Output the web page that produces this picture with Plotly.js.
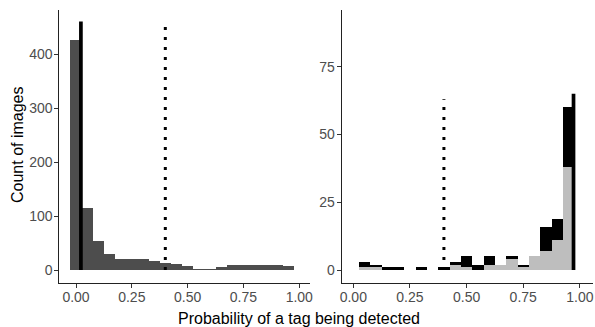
<!DOCTYPE html>
<html>
<head>
<meta charset="utf-8">
<script src="https://cdn.plot.ly/plotly-3.0.1.min.js"></script>
<style>html,body{margin:0;padding:0;background:#fff;}#chart{width:595px;height:327px;}</style>
</head>
<body>
<div id="chart"></div>
<script>
// Bin centres (width 0.05)
const binsLeft = [0.00,0.05,0.10,0.15,0.20,0.25,0.30,0.35,0.40,0.45,0.50,0.55,0.60,0.65,0.70,0.75,0.80,0.85,0.90,0.95];
const countsLeft = [426,115,54,29,20,21,20,17,13,12,8,2,2,6,9,10,9,9,10,7];

const binsRight = [0.05,0.10,0.15,0.20,0.25,0.30,0.35,0.40,0.45,0.50,0.55,0.60,0.65,0.70,0.75,0.80,0.85,0.90,0.95];
const greyRight  = [1,1,0,0,0,0,0,0,2,1,0,2,2,4,1,5,7,11,38];
const blackRight = [2,1,1,1,0,1,0,1,1,4,2,3,0,1,1,0,9,8,22];

// Summary lines
const summaryLeftX = 0.022, summaryLeftTop = 460;
const summaryRightX = 0.972, summaryRightTop = 65;
const threshold = 0.40;
const thresholdTopLeft = 460, thresholdTopRight = 63;

const W = 595, H = 327;
const tickFont = {family: 'Liberation Sans, Arial, sans-serif', size: 14, color: '#4d4d4d'};

const traces = [
  {type:'bar', x: binsLeft, y: countsLeft, width: 0.05, marker:{color:'#4d4d4d', line:{width:0}}, xaxis:'x', yaxis:'y', hoverinfo:'none'},
  {type:'scatter', mode:'lines', x:[summaryLeftX, summaryLeftX], y:[0, summaryLeftTop], line:{color:'#000', width:3.7}, xaxis:'x', yaxis:'y'},
  {type:'scatter', mode:'lines', x:[threshold, threshold], y:[0, thresholdTopLeft], line:{color:'#000', width:3, dash:'3px,7px'}, xaxis:'x', yaxis:'y'},

  {type:'bar', x: binsRight, y: greyRight, width: 0.05, marker:{color:'#bebebe', line:{width:0}}, xaxis:'x2', yaxis:'y2', hoverinfo:'none'},
  {type:'bar', x: binsRight, y: blackRight, width: 0.05, marker:{color:'#000000', line:{width:0}}, xaxis:'x2', yaxis:'y2', hoverinfo:'none'},
  {type:'scatter', mode:'lines', x:[summaryRightX, summaryRightX], y:[0, summaryRightTop], line:{color:'#000', width:3.7}, xaxis:'x2', yaxis:'y2'},
  {type:'scatter', mode:'lines', x:[threshold, threshold], y:[0, thresholdTopRight], line:{color:'#000', width:3, dash:'3px,7px'}, xaxis:'x2', yaxis:'y2'}
];

const axCommon = {
  showgrid:false, zeroline:false, showline:true, linecolor:'#222', linewidth:1,
  ticks:'outside', ticklen:4, tickcolor:'#333', tickwidth:1, tickfont: tickFont, fixedrange:true,
  ticklabelstandoff: -1
};
const xticks = [0, 0.25, 0.5, 0.75, 1.0];
const xtickText = ['0.00','0.25','0.50','0.75','1.00'];

const yBottom = (H - 282.7)/H, yTop = (H - 10)/H;

const layout = {
  width: W, height: H,
  margin:{l:0, r:0, t:0, b:0},
  paper_bgcolor:'#fff', plot_bgcolor:'#fff',
  showlegend:false,
  barmode:'stack', bargap:0,
  xaxis: Object.assign({}, axCommon, {domain:[59.3/W, 310/W], range:[-0.0748, 1.048], tickvals:xticks, ticktext:xtickText, anchor:'y', ticklabelstandoff:-3}),
  yaxis: Object.assign({}, axCommon, {domain:[yBottom, yTop], range:[-23.5, 481.5], tickvals:[0,100,200,300,400], anchor:'x'}),
  xaxis2: Object.assign({}, axCommon, {domain:[341.7/W, 593/W], range:[-0.0512, 1.058], tickvals:xticks, ticktext:xtickText, anchor:'y2', ticklabelstandoff:-3}),
  yaxis2: Object.assign({}, axCommon, {domain:[yBottom, yTop], range:[-4.68, 95.9], tickvals:[0,25,50,75], anchor:'x2'}),
  annotations:[
    {text:'Probability of a tag being detected', xref:'paper', yref:'paper', x:299/W, y:(H-318)/H, xanchor:'center', yanchor:'middle', showarrow:false,
     font:{family:'Liberation Sans, Arial, sans-serif', size:16, color:'#000'}},
    {text:'Count of images', xref:'paper', yref:'paper', x:17/W, y:(H-145)/H, xanchor:'center', yanchor:'middle', textangle:-90, showarrow:false,
     font:{family:'Liberation Sans, Arial, sans-serif', size:16, color:'#000'}}
  ]
};

Plotly.newPlot('chart', traces, layout, {staticPlot:true, displayModeBar:false});
</script>
</body>
</html>
